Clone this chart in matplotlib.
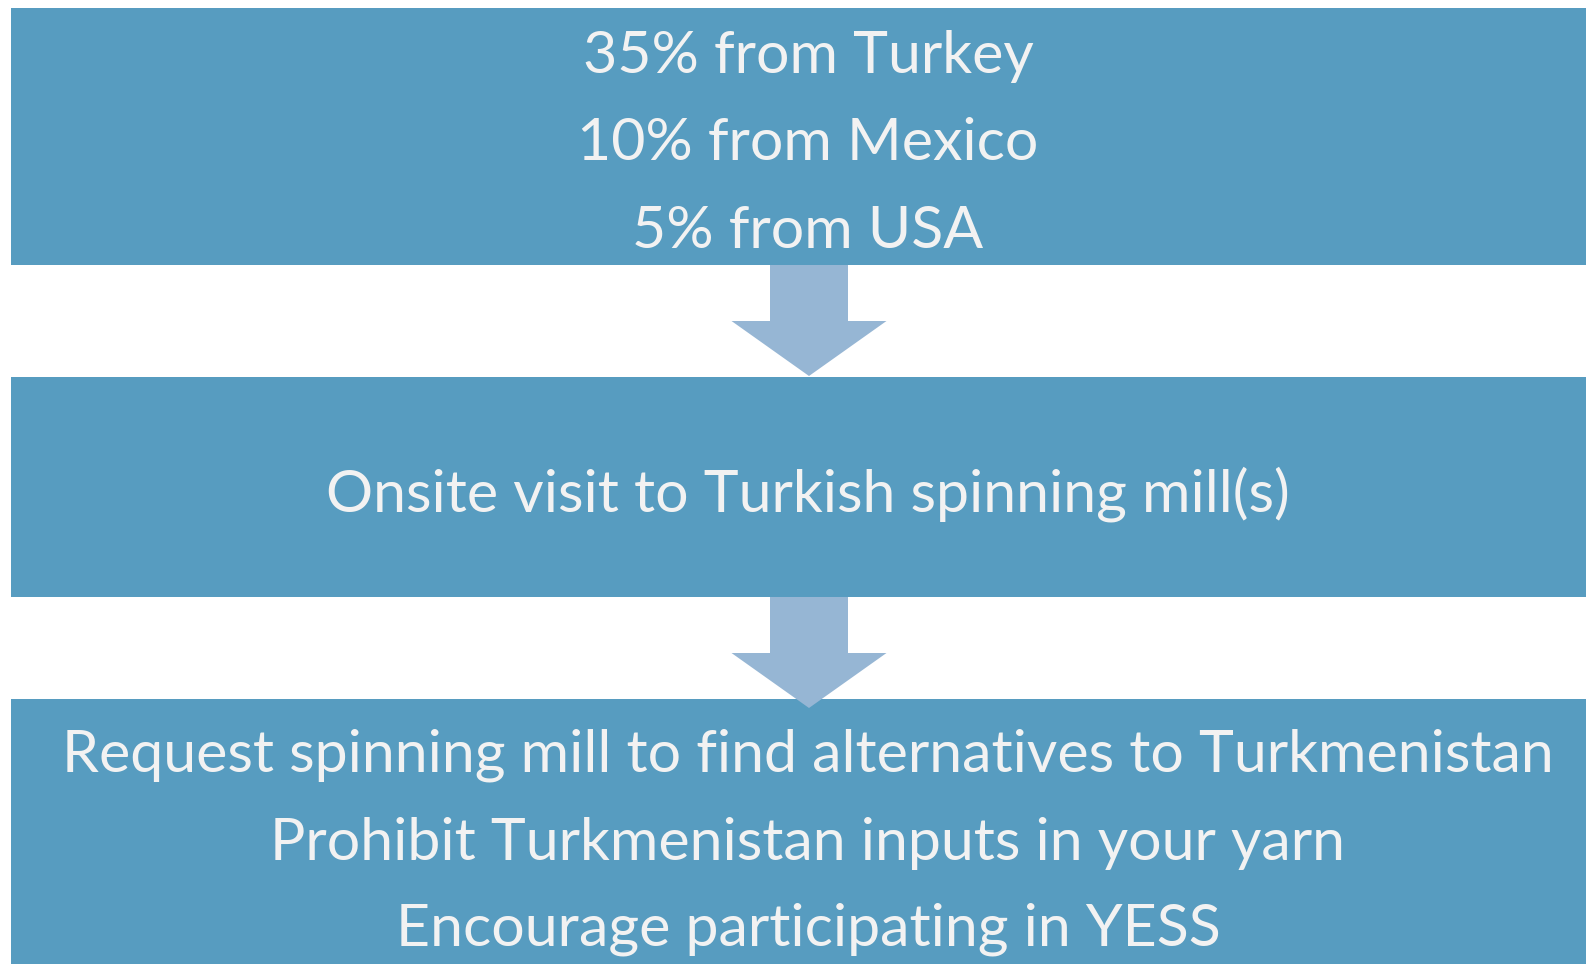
import matplotlib.pyplot as plt
from matplotlib.patches import Rectangle, FancyArrow

# text of each box, top to bottom
box1_lines = ["35% from Turkey", "10% from Mexico", "5% from USA"]
box2_lines = ["Onsite visit to Turkish spinning mill(s)"]
box3_lines = ["Request spinning mill to find alternatives to Turkmenistan",
              "Prohibit Turkmenistan inputs in your yarn",
              "Encourage participating in YESS"]

W, H = 1586, 964
box_color = '#579cc0'
arrow_color = '#96b6d4'
text_color = '#f2f2f2'

fig = plt.figure(figsize=(W / 100, H / 100), dpi=100)
ax = fig.add_axes([0, 0, 1, 1])
ax.set_xlim(0, W)
ax.set_ylim(H, 0)
ax.axis('off')

# boxes: (top, bottom, baselines of lines)
boxes = [
    (8, 265, [73, 160, 248], box1_lines),
    (377, 597, [511], box2_lines),
    (699, 964, [772, 860, 945], box3_lines),
]
cx = 808

for top, bottom, baselines, lines in boxes:
    ax.add_patch(Rectangle((11, top), W, bottom - top, color=box_color, lw=0))

# arrows between boxes
for y0, y1 in [(265, 376), (597, 708)]:
    ax.add_patch(FancyArrow(cx + 1, y0, 0, y1 - y0, width=78, head_width=155,
                            head_length=55, length_includes_head=True,
                            color=arrow_color, lw=0, zorder=3))

# fit font size so the longest line spans about 1490 px
fs = 40
probe = ax.text(0, 0, box3_lines[0], fontsize=fs, family='Lato')
fig.canvas.draw()
w = probe.get_window_extent().width
probe.remove()
fs = fs * 1490 / w

for top, bottom, baselines, lines in boxes:
    for yb, txt in zip(baselines, lines):
        ax.text(cx, yb, txt, fontsize=fs, family='Lato', color=text_color,
                ha='center', va='baseline', zorder=4)

fig.savefig('out.png', dpi=100)
